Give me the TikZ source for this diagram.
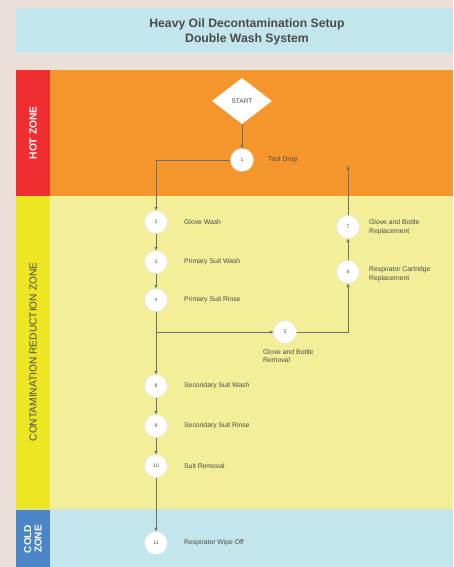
\documentclass[tikz,border=0pt]{standalone}
\usepackage{fontspec}
\setmainfont{Liberation Sans}
\usetikzlibrary{shapes.geometric,arrows.meta}
\definecolor{bgc}{HTML}{E9DFD7}
\definecolor{lblue}{HTML}{C3E6EC}
\definecolor{hotred}{HTML}{EE2E30}
\definecolor{hotorange}{HTML}{F4962C}
\definecolor{cryellow}{HTML}{EDE622}
\definecolor{crpale}{HTML}{F3EF98}
\definecolor{coldblue}{HTML}{4A86C6}
\definecolor{linec}{HTML}{707070}
\definecolor{txtc}{HTML}{4A4A4A}
\tikzset{
  stepnode/.style={circle,fill=white,draw=black!12,line width=0.4pt,minimum size=23pt,inner sep=0pt,font=\fontsize{5}{6}\selectfont,text=txtc},
  steplabel/.style={anchor=west,font=\fontsize{6.8}{8.8}\selectfont,text=txtc,align=left,inner sep=0pt},
  conn/.style={draw=linec,line width=0.4pt,-{Triangle[length=3.5pt,width=3pt]}},
  plain/.style={draw=linec,line width=0.4pt}
}
\begin{document}
\begin{tikzpicture}[x=1pt,y=-1pt]
\useasboundingbox (0,0) rectangle (453,567);
\fill[bgc] (0,0) rectangle (453,567);
% title
\fill[lblue] (16,8) rectangle (453,53);
\draw[black!10,line width=0.4pt] (16,53) -- (453,53);
\node[font=\bfseries\fontsize{12.2}{14.5}\selectfont,text=txtc,align=center] (title) at (247,32) {Heavy Oil Decontamination Setup\\Double Wash System};
% zones
\fill[hotorange] (50,70) rectangle (453,196);
\fill[hotred] (16,70) rectangle (50,196);
\fill[crpale] (50,196) rectangle (453,509);
\fill[cryellow] (16,196) rectangle (50,509);
\fill[lblue] (50,509) rectangle (453,567);
\fill[coldblue] (16,509) rectangle (50,567);
\draw[black!15,line width=0.4pt] (16,509) -- (453,509);
\node[rotate=90,font=\bfseries\fontsize{10.2}{11}\selectfont,text=white] (hz) at (33,133) {HOT ZONE};
\node[rotate=90,font=\fontsize{10.2}{11}\selectfont,text=txtc] (crz) at (33,352) {CONTAMINATION REDUCTION ZONE};
\node[rotate=90,font=\bfseries\fontsize{10}{10.5}\selectfont,text=white,align=center] (cz) at (33,539) {COLD\\ZONE};
% nodes
\node[diamond,fill=white,minimum width=60pt,minimum height=46pt,inner sep=0pt,font=\fontsize{6.5}{7}\selectfont,text=txtc] (start) at (242,101) {START};
\node[stepnode] (n1) at (242,160) {1};
\node[stepnode] (n2) at (156,222) {2};
\node[stepnode] (n3) at (156,262) {3};
\node[stepnode] (n4) at (156,300) {4};
\node[stepnode] (n5) at (285,332) {5};
\node[stepnode] (n6) at (348,272) {6};
\node[stepnode] (n7) at (348,227) {7};
\node[stepnode] (n8) at (156,386) {8};
\node[stepnode] (n9) at (156,426) {9};
\node[stepnode] (n10) at (156,466) {10};
\node[stepnode] (n11) at (156,543) {11};
% labels
\node[steplabel] (l1) at (268,160) {Tool Drop};
\node[steplabel] (l2) at (184,222) {Glove Wash};
\node[steplabel] (l3) at (184,262) {Primary Suit Wash};
\node[steplabel] (l4) at (184,300) {Primary Suit Rinse};
\node[steplabel,anchor=north west] (l5) at (263,349) {Glove and Bottle\\Removal};
\node[steplabel] (l6) at (369,274) {Respirator Cartridge\\Replacement};
\node[steplabel] (l7) at (369,227) {Glove and Bottle\\Replacement};
\node[steplabel] (l8) at (184,386) {Secondary Suit Wash};
\node[steplabel] (l9) at (184,426) {Secondary Suit Rinse};
\node[steplabel] (l10) at (184,466) {Suit Removal};
\node[steplabel] (l11) at (184,543) {Respirator Wipe Off};
\coordinate (up) at (348,166);
% connectors
\draw[conn] (start) -- (n1);
\draw[conn] (n1.west) -| (n2.north);
\draw[conn] (n2) -- (n3);
\draw[conn] (n3) -- (n4);
\draw[conn] (n4.south) |- (n5.west);
\draw[conn] (n4) -- (n8);
\draw[conn] (n5.east) -| (n6.south);
\draw[conn] (n6) -- (n7);
\draw[conn] (n7) -- (up);
\draw[conn] (n8) -- (n9);
\draw[conn] (n9) -- (n10);
\draw[conn] (n10) -- (n11);
\end{tikzpicture}
\end{document}
